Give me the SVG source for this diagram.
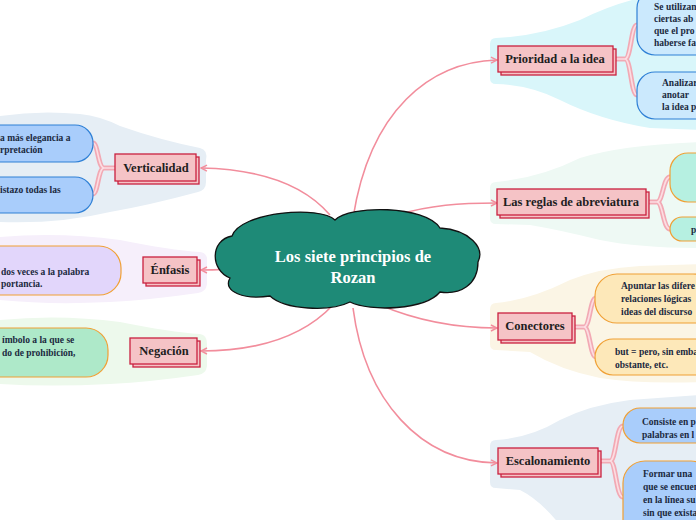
<svg xmlns="http://www.w3.org/2000/svg" width="696" height="520" viewBox="0 0 696 520">
<style>
.conn{fill:none;stroke:#f28d9c;stroke-width:1.6}
.br{fill:none;stroke:#f2a9b4;stroke-width:5;stroke-linecap:round}
.bri{fill:none;stroke:#fcdde2;stroke-width:1.6;stroke-linecap:round}
.mb{fill:#f5c3c6;stroke:#c9213f;stroke-width:1.3}
.mt{font-family:"Liberation Serif","DejaVu Serif",serif;font-weight:bold;font-size:12.5px;fill:#1e1e1e;text-anchor:middle}
.st{font-family:"Liberation Serif","DejaVu Serif",serif;font-weight:bold;font-size:9.5px;fill:#1b2940}
.blue{fill:#a9cdfb;stroke:#2f80d6;stroke-width:1.2}
.lblue{fill:#cbe9fd;stroke:#2f80d6;stroke-width:1.2}
.ob{stroke:#f0a035;stroke-width:1.2}
</style>
<defs>
<marker id="arr" viewBox="0 0 8 8" refX="7" refY="4" markerWidth="8" markerHeight="8" markerUnits="userSpaceOnUse" orient="auto">
<path d="M1,1 L7,4 L1,7" fill="none" stroke="#f28d9c" stroke-width="1.4"/>
</marker>
</defs>

<g id="backgrounds">
<path fill="#e6eef5" d="M0,116 Q40,110 80,114 Q100,116 120,126 Q160,140 200,148 Q208,150 206,160 L206,182 Q206,190 198,192 Q150,205 110,212 Q60,224 0,222 Z"/>
<path fill="#f6effb" d="M0,237 Q60,232 120,240 Q170,250 200,252 Q208,253 207,262 L207,284 Q206,292 198,293 Q150,300 110,302 Q50,305 0,300 Z"/>
<path fill="#edf9ec" d="M0,320 Q60,314 120,322 Q170,332 200,334 Q207,335 207,344 L207,366 Q206,374 198,375 Q150,382 110,384 Q50,387 0,384 Z"/>
<path fill="#d9f6fa" d="M496,38 Q540,36 580,20 Q610,5 640,-2 L700,-2 L700,130 L650,128 Q600,120 560,100 Q530,85 496,84 Q490,84 490,78 L490,44 Q490,38 496,38 Z"/>
<path fill="#eef9f4" d="M496,182 Q540,178 580,158 Q620,145 700,142 L700,248 Q640,248 600,240 Q560,230 530,225 L496,224 Q490,224 490,218 L490,188 Q490,182 496,182 Z"/>
<path fill="#fbf5e5" d="M496,303 Q530,300 570,280 Q600,268 640,266 L700,264 L700,382 Q640,384 600,378 Q560,370 530,352 L496,350 Q490,350 490,344 L490,310 Q490,303 496,303 Z"/>
<path fill="#e6eef5" d="M496,440 Q530,438 560,420 Q590,405 630,400 L700,395 L700,525 L560,525 Q540,500 520,490 L496,488 Q490,488 490,482 L490,446 Q490,440 496,440 Z"/>
</g>

<g id="connectors">
<path class="conn" marker-end="url(#arr)" d="M330,215 C300,180 250,169 201,168"/>
<path class="conn" marker-end="url(#arr)" d="M240,268 C225,270 215,270 201,270"/>
<path class="conn" marker-end="url(#arr)" d="M333,305 C300,340 250,351 201,351"/>
<path class="conn" marker-end="url(#arr)" d="M353,218 C370,110 430,62 497,60"/>
<path class="conn" marker-end="url(#arr)" d="M397,215 C430,205 460,203 497,203"/>
<path class="conn" marker-end="url(#arr)" d="M380,305 C420,322 460,328 497,328"/>
<path class="conn" marker-end="url(#arr)" d="M353,308 C365,400 420,462 497,463"/>
<g id="branches">
<path class="br" d="M116,168 L104,168 C98,168 98,143 93,143 M104,168 C98,168 98,194 93,194"/>
<path class="bri" d="M116,168 L104,168 C98,168 98,143 93,143 M104,168 C98,168 98,194 93,194"/>
<path class="br" d="M613,59 L625,59 C631,59 631,25 637,25 M625,59 C631,59 631,95 637,95"/>
<path class="bri" d="M613,59 L625,59 C631,59 631,25 637,25 M625,59 C631,59 631,95 637,95"/>
<path class="br" d="M646,202 L657,202 C663,202 663,177 670,177 M657,202 C663,202 663,229 670,229"/>
<path class="bri" d="M646,202 L657,202 C663,202 663,177 670,177 M657,202 C663,202 663,229 670,229"/>
<path class="br" d="M572,327 L584,327 C590,327 590,298 596,298 M584,327 C590,327 590,357 596,357"/>
<path class="bri" d="M572,327 L584,327 C590,327 590,298 596,298 M584,327 C590,327 590,357 596,357"/>
<path class="br" d="M598,461 L610,461 C616,461 616,426 623,426 M610,461 C616,461 616,497 623,497"/>
<path class="bri" d="M598,461 L610,461 C616,461 616,426 623,426 M610,461 C616,461 616,497 623,497"/>
</g>
</g>

<g id="central">
<path fill="#1e8a77" stroke="#111" stroke-width="1.3" d="M232,236 C240,212 320,205 335,220 C350,205 425,205 440,228 C470,230 485,248 478,262 C478,285 460,295 440,292 C425,310 370,312 350,302 C330,312 285,310 270,296 C245,300 222,292 230,278 C210,270 210,240 232,236 Z"/>
<text x="353" y="262" font-family="Liberation Serif, DejaVu Serif, serif" font-weight="bold" font-size="16.5" fill="#fff" text-anchor="middle">Los siete principios de</text>
<text x="353" y="283" font-family="Liberation Serif, DejaVu Serif, serif" font-weight="bold" font-size="16.5" fill="#fff" text-anchor="middle">Rozan</text>
</g>

<g id="verticalidad">
<rect class="mb" x="118" y="157" width="81" height="27"/>
<rect class="mb" x="115" y="154" width="81" height="27"/>
<text class="mt" x="156" y="172">Verticalidad</text>
</g>
<g id="verticalidad-1">
<rect class="blue" x="-30" y="125" width="123" height="37" rx="18"/>
<text class="st" x="0" y="141">a más elegancia a</text>
<text class="st" x="0" y="153">rpretación</text>
</g>
<g id="verticalidad-2">
<rect class="blue" x="-30" y="177" width="123" height="36" rx="18"/>
<text class="st" x="0" y="193">istazo todas las</text>
</g>

<g id="enfasis">
<rect class="mb" x="146" y="260" width="54" height="26"/>
<rect class="mb" x="143" y="257" width="54" height="26"/>
<text class="mt" x="170" y="274">Énfasis</text>
</g>
<g id="enfasis-1">
<rect fill="#e2d6fb" class="ob" x="-30" y="246" width="151" height="49" rx="22"/>
<text class="st" x="1" y="275">dos veces a la palabra</text>
<text class="st" x="1" y="287">portancia.</text>
</g>

<g id="negacion">
<rect class="mb" x="133" y="341" width="67" height="26"/>
<rect class="mb" x="130" y="338" width="67" height="26"/>
<text class="mt" x="164" y="355">Negación</text>
</g>
<g id="negacion-1">
<rect fill="#aee9c9" class="ob" x="-30" y="328" width="138" height="49" rx="22"/>
<text class="st" x="2" y="343">ímbolo a la que se</text>
<text class="st" x="2" y="356">do de prohibición,</text>
</g>

<g id="prioridad">
<rect class="mb" x="501" y="49" width="115" height="26"/>
<rect class="mb" x="498" y="46" width="115" height="26"/>
<text class="mt" x="555" y="63">Prioridad a la idea</text>
</g>
<g id="prioridad-1">
<rect class="lblue" x="637" y="-10" width="90" height="65" rx="18"/>
<text class="st" x="654" y="10">Se utilizan</text>
<text class="st" x="654" y="22">ciertas ab</text>
<text class="st" x="654" y="34">que el pro</text>
<text class="st" x="654" y="46">haberse fa</text>
</g>
<g id="prioridad-2">
<rect class="lblue" x="637" y="72" width="90" height="47" rx="18"/>
<text class="st" x="662" y="86">Analizar</text>
<text class="st" x="662" y="98">anotar</text>
<text class="st" x="662" y="110">la idea p</text>
</g>

<g id="reglas">
<rect class="mb" x="500" y="192" width="149" height="26"/>
<rect class="mb" x="497" y="189" width="149" height="26"/>
<text class="mt" x="571" y="206">Las reglas de abreviatura</text>
</g>
<g id="reglas-1">
<rect fill="#b6f0e1" class="ob" x="670" y="153" width="60" height="49" rx="18"/>
</g>
<g id="reglas-2">
<rect fill="#b6f0e1" class="ob" x="670" y="217" width="60" height="24" rx="12"/>
<text class="st" x="691" y="233">p</text>
</g>

<g id="conectores">
<rect class="mb" x="501" y="316" width="74" height="27"/>
<rect class="mb" x="498" y="313" width="74" height="27"/>
<text class="mt" x="535" y="330">Conectores</text>
</g>
<g id="conectores-1">
<rect fill="#fde8b9" class="ob" x="595" y="274" width="120" height="49" rx="22"/>
<text class="st" x="621" y="289">Apuntar las difere</text>
<text class="st" x="621" y="302">relaciones lógicas</text>
<text class="st" x="621" y="315">ideas del discurso</text>
</g>
<g id="conectores-2">
<rect fill="#fde8b9" class="ob" x="595" y="339" width="120" height="36" rx="18"/>
<text class="st" x="615" y="355">but = pero, sin emba</text>
<text class="st" x="615" y="368">obstante, etc.</text>
</g>

<g id="escalonamiento">
<rect class="mb" x="501" y="451" width="100" height="26"/>
<rect class="mb" x="498" y="448" width="100" height="26"/>
<text class="mt" x="548" y="465">Escalonamiento</text>
</g>
<g id="escalonamiento-1">
<rect fill="#a9cdfb" class="ob" x="623" y="408" width="90" height="35" rx="17"/>
<text class="st" x="642" y="425">Consiste en p</text>
<text class="st" x="642" y="438">palabras en l</text>
</g>
<g id="escalonamiento-2">
<rect fill="#a9cdfb" class="ob" x="623" y="461" width="90" height="80" rx="22"/>
<text class="st" x="643" y="477">Formar una</text>
<text class="st" x="643" y="490">que se encuen</text>
<text class="st" x="643" y="503">en la línea su</text>
<text class="st" x="643" y="516">sin que exista</text>
</g>
</svg>
